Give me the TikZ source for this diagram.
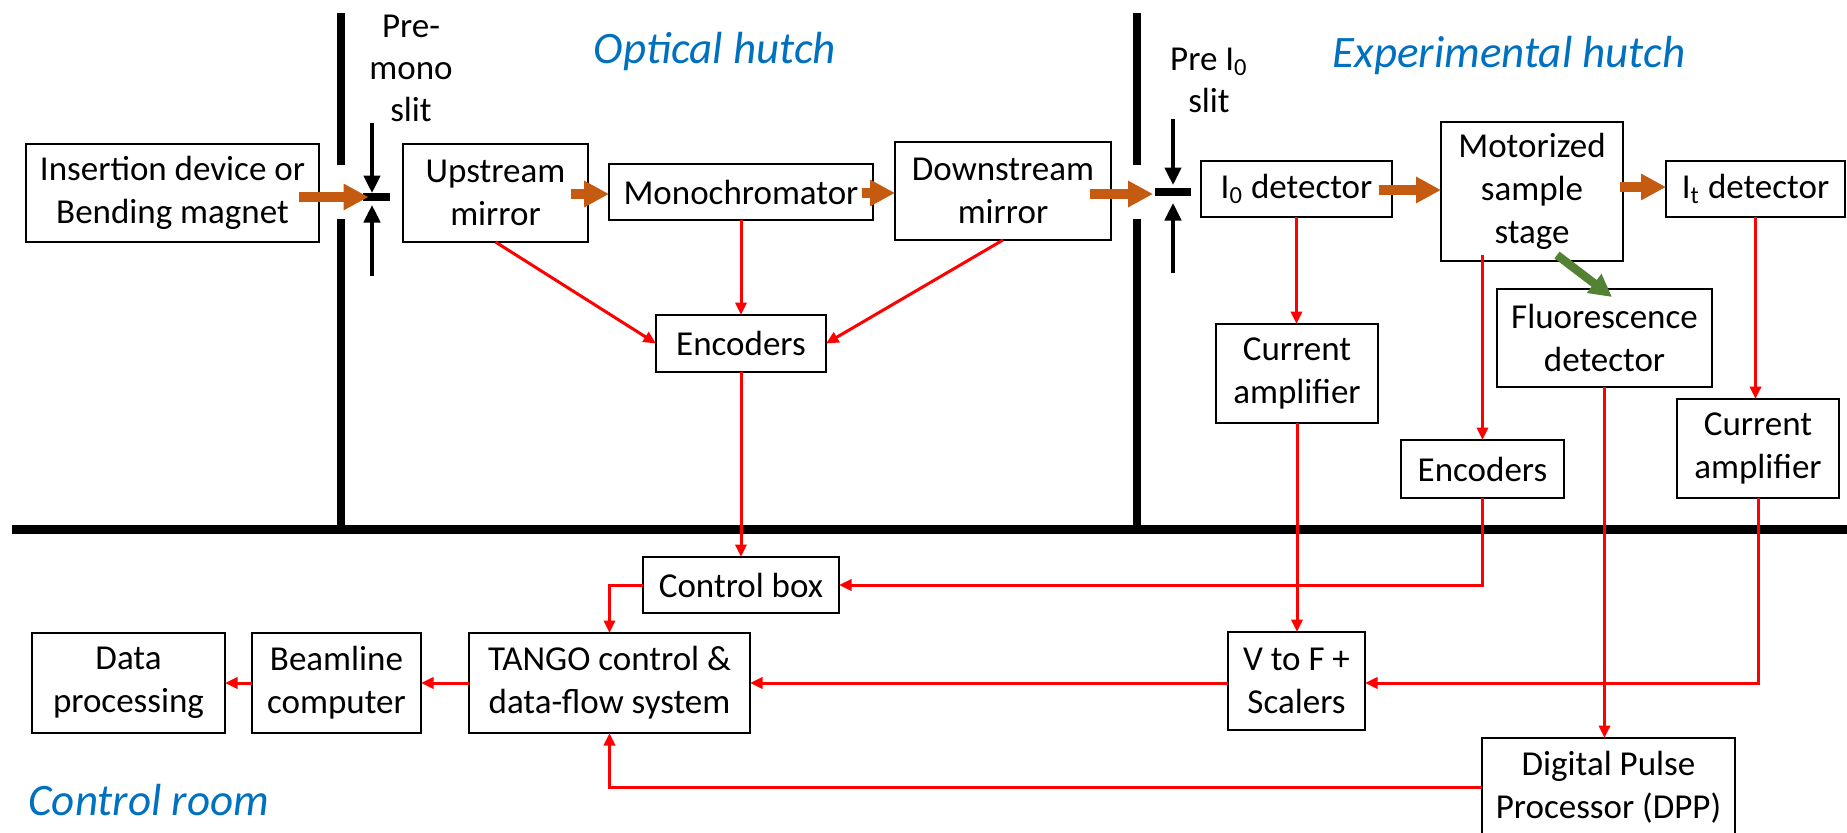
\documentclass[tikz,border=0pt]{standalone}
\usepackage{fontspec}
\setmainfont{Carlito}
\usetikzlibrary{arrows.meta}
\definecolor{beamc}{HTML}{C55A11}
\definecolor{fluoc}{HTML}{548235}
\definecolor{titlec}{HTML}{0070C0}
\definecolor{sigc}{HTML}{FF0000}
\begin{document}
\begin{tikzpicture}[x=0.4pt,y=-0.4pt,
  box/.style={draw,line width=1pt,inner sep=0pt,outer sep=0pt,align=center,fill=white,
    font=\fontsize{14}{17.2}\selectfont},
  sz/.style 2 args={minimum width=#1*0.4pt,minimum height=#2*0.4pt},
  lbl/.style={inner sep=0pt,align=center,font=\fontsize{14}{16.8}\selectfont},
  ttl/.style={inner sep=0pt,text=titlec,font=\fontsize{18}{22}\selectfont\itshape},
  beamarrow/.style={draw=beamc,line width=4pt,-{Triangle[length=10pt,width=10pt]}},
  fluoarrow/.style={draw=fluoc,line width=3.4pt,-{Triangle[length=9pt,width=9pt]}},
  sig/.style={draw=sigc,line width=1.2pt,-{Triangle[length=5pt,width=4.5pt]}},
  wall/.style={line width=3.3pt},
  slitbar/.style={fill=black,inner sep=0pt,outer sep=0pt},
  slitarrow/.style={line width=1.5pt,-{Triangle[length=7pt,width=6.5pt]}}
]
\useasboundingbox (0,0) rectangle (1847,833);

% walls and floor
\draw[wall] (341,13) -- (341,165);
\draw[wall] (341,219) -- (341,529);
\draw[wall] (1137,13) -- (1137,165);
\draw[wall] (1137,219) -- (1137,529);
\draw[line width=3.6pt] (12,529) -- (1847,529);

% titles
\node[ttl,anchor=base] (t1) at (715,63) {Optical hutch};
\node[ttl,anchor=base] (t2) at (1509,68) {Experimental hutch};
\node[ttl,anchor=base west] (t3) at (28,815) {Control room};

% slit labels
\node[lbl] (pm) at (411,68) {Pre-\\mono\\slit};
\node[lbl] (pi) at (1209,80) {Pre I\textsubscript{0}\\slit};

% slits
\node[slitbar,minimum width=27*0.4pt,minimum height=8*0.4pt] (s1) at (376,197) {};
\node[slitbar,minimum width=36*0.4pt,minimum height=8*0.4pt] (s2) at (1173,192) {};
\coordinate (s1t) at (372,123);
\coordinate (s1b) at (372,276);
\coordinate (s2t) at (1173,119);
\coordinate (s2b) at (1173,273);
\draw[slitarrow] (s1t) -- (s1t |- s1.north);
\draw[slitarrow] (s1b) -- ([yshift=-1.6pt]s1b |- s1.south);
\draw[slitarrow] (s2t) -- ([yshift=1.2pt]s2t |- s2.north);
\draw[slitarrow] (s2b) -- ([yshift=-2.8pt]s2b |- s2.south);

% boxes
\node[box,sz={293}{98}] (ins) at (172.5,193) {Insertion device or\\Bending magnet};
\node[box,sz={185}{98}] (ups) at (495.5,193) {Upstream\\mirror};
\node[box,sz={264}{56}] (mono) at (741,192) {Monochromator};
\node[box,sz={216}{98}] (down) at (1003,191) {Downstream\\mirror};
\node[box,sz={191}{56}] (i0) at (1296.5,189) {I\textsubscript{0} detector};
\node[box,sz={182}{139}] (motor) at (1532,191.5) {Motorized\\sample\\stage};
\node[box,sz={179}{56}] (it) at (1755.5,189) {I\textsubscript{t} detector};
\node[box,sz={170}{57}] (enc1) at (741,343.5) {Encoders};
\node[box,sz={162}{99}] (ca1) at (1297,373.5) {Current\\amplifier};
\node[box,sz={215}{98}] (fluor) at (1604.5,338) {Fluorescence\\detector};
\node[box,sz={163}{58}] (enc2) at (1482.5,469) {Encoders};
\node[box,sz={162}{99}] (ca2) at (1758,448.5) {Current\\amplifier};
\node[box,sz={196}{56}] (ctrl) at (741,585) {Control box};
\node[box,sz={193}{100}] (data) at (128.5,683) {Data\\processing};
\node[box,sz={169}{100}] (beam) at (336.5,683) {Beamline\\computer};
\node[box,sz={281}{100}] (tango) at (609.5,683) {TANGO control \&\\data-flow system};
\node[box,sz={137}{98}] (vtof) at (1296.5,681) {V to F +\\Scalers};
\node[box,sz={253}{98}] (dpp) at (1608.5,787) {Digital Pulse\\Processor (DPP)};

% beam arrows
\draw[beamarrow] ([xshift=-20*0.4pt,yshift=-4*0.4pt]ins.east) -- ([xshift=6*0.4pt]s1.west);
\draw[beamarrow] ([xshift=-17*0.4pt,yshift=-1*0.4pt]ups.east) -- ([yshift=-2*0.4pt]mono.west);
\draw[beamarrow] ([xshift=-11*0.4pt,yshift=-1*0.4pt]mono.east) -- ([yshift=-2*0.4pt]down.west);
\draw[beamarrow] ([xshift=-21*0.4pt,yshift=-3*0.4pt]down.east) -- ([xshift=-2*0.4pt,yshift=-2*0.4pt]s2.west);
\draw[beamarrow] ([xshift=-13*0.4pt,yshift=-1*0.4pt]i0.east) -- ([yshift=1.5*0.4pt]motor.west);
\draw[beamarrow] ([xshift=-3*0.4pt,yshift=4.5*0.4pt]motor.east) -- ([yshift=2*0.4pt]it.west);
\coordinate (gstart) at (1557,255);
\draw[fluoarrow] (gstart) -- ([xshift=7.5*0.4pt,yshift=-8*0.4pt]fluor.north);

% signal connectors
\draw[sig] (ups.south) -- (enc1.west);
\draw[sig] (mono.south) -- (enc1.north);
\draw[sig] (down.south) -- (enc1.east);
\draw[sig] (enc1.south) -- (ctrl.north);
\draw[sig] (i0.south) -- (i0.south |- ca1.north);
\draw[sig] (ca1.south) -- (ca1.south |- vtof.north);
\draw[sig] ([yshift=6*0.4pt]enc2.north |- motor.south) -- (enc2.north);
\draw[sig] (it.south) -- (it.south |- ca2.north);
\draw[sig] (fluor.south) -- (fluor.south |- dpp.north);
\draw[sig] (enc2.south) |- (ctrl.east);
\draw[sig] (ca2.south) |- ([yshift=-2*0.4pt]vtof.east);
\draw[sig] ([yshift=-2*0.4pt]vtof.west) -- (tango.east);
\draw[sig] (dpp.west) -| (tango.south);
\draw[sig] (ctrl.west) -| (tango.north);
\draw[sig] (tango.west) -- (beam.east);
\draw[sig] (beam.west) -- (data.east);
\end{tikzpicture}
\end{document}
